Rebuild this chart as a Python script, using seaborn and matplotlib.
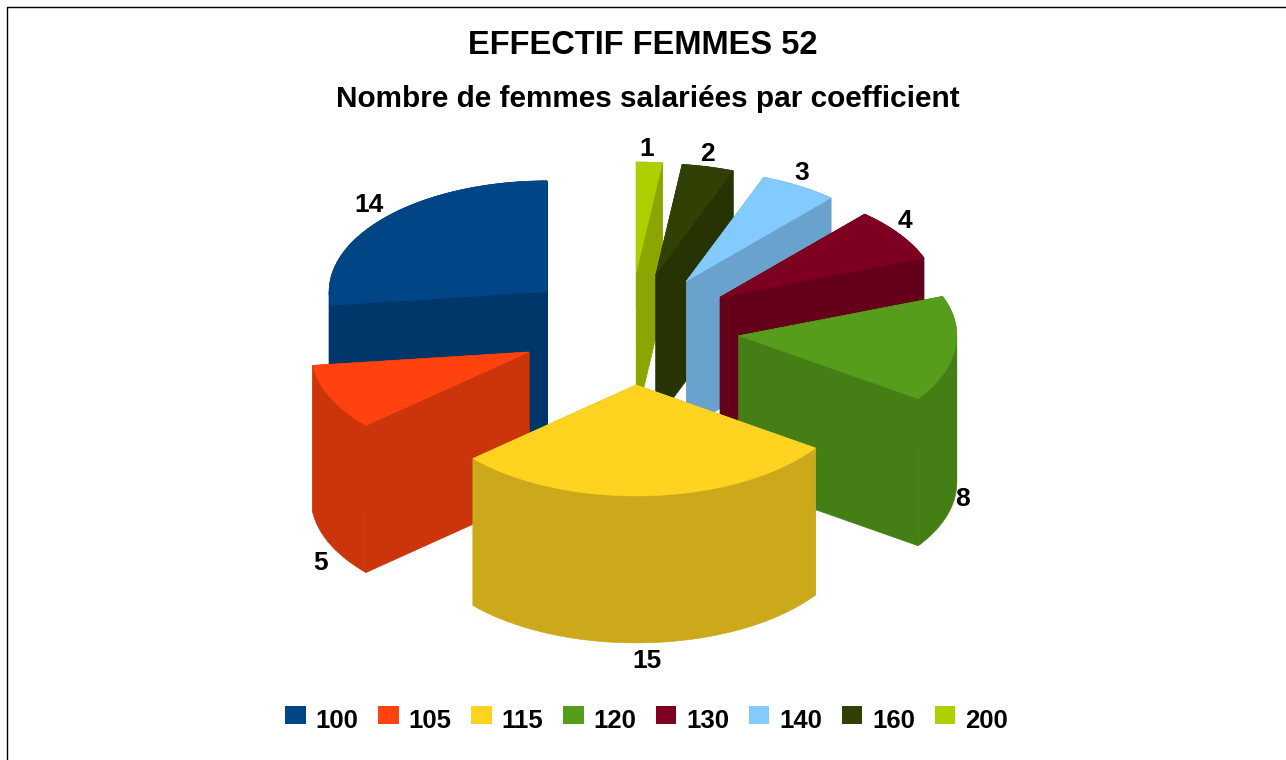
# Camembert 3D eclate (effectif femmes par coefficient)
import numpy as np
import seaborn as sns
import matplotlib.pyplot as plt
from matplotlib.patches import Patch

# Donnees
coefficients = ["100", "105", "115", "120", "130", "140", "160", "200"]
effectifs = [14, 5, 15, 8, 4, 3, 2, 1]
couleurs = ["#004586", "#ff420e", "#ffd320", "#579d1c",
            "#7e0021", "#83caff", "#314004", "#aecf00"]
titre = "EFFECTIF FEMMES 52"
sous_titre = "Nombre de femmes salariées par coefficient"

# Geometrie du camembert (pixels de l'image)
W, H = 1286, 760
CX, CY = 629.5, 329
RX, RY = 218, 111
EPAISSEUR = 147
ECLATEMENT = 0.505
OMBRE = 0.8

sns.set_theme(style="white")
plt.rcParams['font.family'] = ['Liberation Sans', 'DejaVu Sans']
plt.rcParams['font.weight'] = 'bold'

palette = sns.color_palette(couleurs)

fig = plt.figure(figsize=(W / 100, H / 100), dpi=100, facecolor="white")
ax = fig.add_axes([0, 0, 1, 1])
ax.set_xlim(0, W)
ax.set_ylim(H, 0)
ax.axis("off")

# Cadre (haut + gauche seulement visibles dans l'image)
ax.plot([6.5, 6.5, W], [H, 6.5, 6.5], color="black", lw=1.0, zorder=1)

# Angles des parts : sens trigo depuis le haut
fractions = np.array(effectifs) / sum(effectifs) * 360
fins = 90 + np.cumsum(fractions)
debuts = fins - fractions


def point(theta, x0=0, y0=0):
    t = np.radians(theta)
    return x0 + RX * np.cos(t), y0 - RY * np.sin(t)


faces = []
for i, (a, b) in enumerate(zip(debuts, fins)):
    milieu = np.radians((a + b) / 2)
    x0 = CX + ECLATEMENT * RX * np.cos(milieu)
    y0 = CY - ECLATEMENT * RY * np.sin(milieu)
    cote = tuple(np.array(palette[i]) * OMBRE)

    thetas = np.linspace(a, b, 80)
    xs, ys = point(thetas, x0, y0)

    # paroi exterieure, coupee la ou l'arc revient sur lui-meme (0 et 180 degres)
    coupures = [c for c in (180, 360) if a < c < b]
    bornes = [a] + coupures + [b]
    parts = []
    for d, f in zip(bornes[:-1], bornes[1:]):
        mx, my = point(np.linspace(d, f, 60), x0, y0)
        parts.append((my.mean(), np.r_[mx, mx[::-1]],
                      np.r_[my, my[::-1] + EPAISSEUR], cote))
    # parois radiales
    for th in (a, b):
        px, py = point(th, x0, y0)
        parts.append(((py + y0) / 2, [x0, px, px, x0],
                      [y0, py, py + EPAISSEUR, y0 + EPAISSEUR], cote))
    parts.sort(key=lambda f: f[0])

    # dessus
    dessus_x = np.r_[x0, xs]
    dessus_y = np.r_[y0, ys]
    faces.append((y0, parts, dessus_x, dessus_y, palette[i]))

    # etiquette
    ex, ey = point((a + b) / 2, x0, y0)
    s = np.sin(milieu)
    c = np.cos(milieu)
    if s < 0:
        ey += EPAISSEUR
    decal_x = 10 * c - 3
    if c < 0:
        decal_x -= 6 * s
    decal_y = 1.5 - 17 * np.clip(6 * s * abs(s), -1, 1)
    if s > 0:
        decal_y += 2.5
    ax.text(ex + decal_x, ey + decal_y,
            str(effectifs[i]), ha="center", va="center", fontsize=19,
            color="black", zorder=50)

# des parts du fond vers l'avant
for z, (y0, parts, dx, dy, coul) in enumerate(sorted(faces, key=lambda f: f[0])):
    for _, fx, fy, c in parts:
        ax.fill(fx, fy, color=c, lw=0.4, zorder=10 + z)
    ax.fill(dx, dy, color=coul, lw=0.4, zorder=10 + z)

# Titres
ax.text(643, 46, titre, ha="center", va="center", fontsize=23.5, color="black")
ax.text(647.5, 99, sous_titre, ha="center", va="center", fontsize=21.4, color="black")

# Legende
poignees = [Patch(facecolor=c, edgecolor="none", label=l)
            for c, l in zip(palette, coefficients)]
leg = fig.legend(handles=poignees, loc="center", bbox_to_anchor=(646.5 / W, 1 - 721 / H),
                 ncol=8, frameon=False, fontsize=18.5, handlelength=0.8, handleheight=0.7,
                 handletextpad=0.38, columnspacing=0.765, labelcolor="black")
# carres un peu plus hauts que le texte
for p in leg.get_patches():
    p.set_y(p.get_y() + 2.9)

fig.savefig("out.png", dpi=100)
